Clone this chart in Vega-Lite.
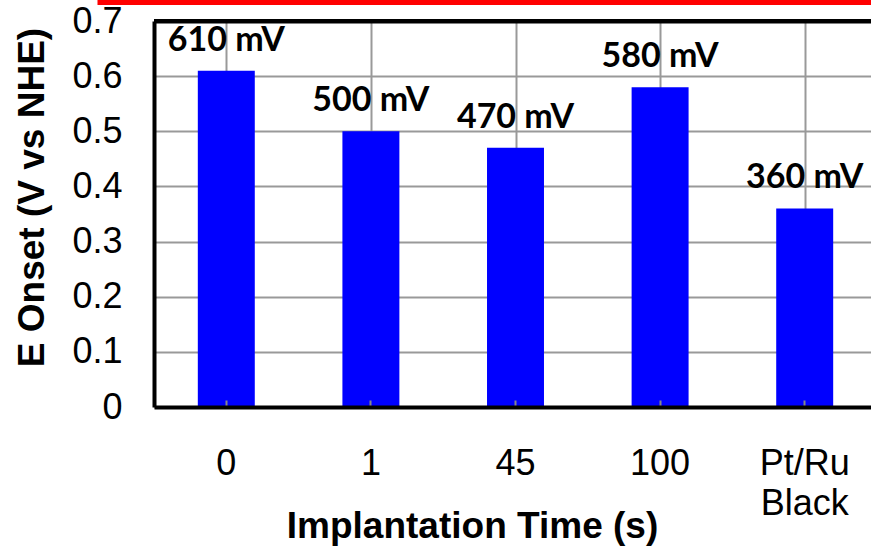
{
  "$schema": "https://vega.github.io/schema/vega-lite/v6.json",
  "width": 723,
  "height": 386,
  "autosize": {"type": "none"},
  "padding": {"left": 154, "top": 21, "right": -6, "bottom": 142},
  "background": "white",
  "config": {"view": {"stroke": null}, "font": "Liberation Sans"},
  "data": {
    "values": [
      {"time": "0", "onset": 0.61, "label": "610 mV"},
      {"time": "1", "onset": 0.50, "label": "500 mV"},
      {"time": "45", "onset": 0.47, "label": "470 mV"},
      {"time": "100", "onset": 0.58, "label": "580 mV"},
      {"time": "Pt/Ru Black", "onset": 0.36, "label": "360 mV"}
    ]
  },
  "layer": [
    {
      "mark": {"type": "bar", "color": "#0000FF"},
      "encoding": {
        "x": {
          "field": "time", "type": "nominal", "sort": null,
          "scale": {"paddingInner": 0.606, "paddingOuter": 0.303},
          "axis": {
            "orient": "bottom",
            "title": "Implantation Time (s)",
            "labelAngle": 0,
            "labelFont": "Liberation Sans",
            "labelFontSize": 36,
            "labelColor": "black",
            "labelPadding": 46,
            "labelExpr": "datum.value == 'Pt/Ru Black' ? ['Pt/Ru', 'Black'] : datum.label",
            "labelLineHeight": 40,
            "tickSize": -7,
            "tickColor": "#888888",
            "tickWidth": 2,
            "domainColor": "black",
            "domainWidth": 4,
            "grid": false,
            "zindex": 1,
            "titleFont": "Liberation Sans",
            "titleFontSize": 37,
            "titleFontWeight": "bold",
            "titleColor": "black",
            "titleX": 318,
            "titleY": 130,
            "titleBaseline": "alphabetic",
            "titleAlign": "center"
          }
        },
        "y": {
          "field": "onset", "type": "quantitative",
          "scale": {"domain": [0, 0.7]},
          "axis": {
            "title": "E Onset (V vs NHE)",
            "values": [0, 0.1, 0.2, 0.3, 0.4, 0.5, 0.6, 0.7],
            "format": ".1~f",
            "labelFont": "Liberation Sans",
            "labelFontSize": 36,
            "labelColor": "black",
            "labelPadding": 32,
            "ticks": false,
            "domainColor": "black",
            "domainWidth": 4,
            "grid": true,
            "gridColor": "#999999",
            "gridWidth": 2,
            "zindex": 0,
            "titleFont": "Liberation Sans",
            "titleFontSize": 37,
            "titleFontWeight": "bold",
            "titleColor": "black",
            "titleX": -103,
            "titleY": 176,
            "titleAngle": -90,
            "titleBaseline": "bottom",
            "titleAlign": "center"
          }
        }
      }
    },
    {
      "mark": {"type": "text", "font": "Lato", "fontWeight": "bold", "fontSize": 34, "baseline": "alphabetic", "dy": -20, "color": "black"},
      "encoding": {
        "x": {
          "field": "time", "type": "nominal", "sort": null,
          "scale": {"paddingInner": 0.606, "paddingOuter": 0.303},
          "axis": {
            "orient": "top",
            "labels": false,
            "ticks": false,
            "title": null,
            "grid": true,
            "gridColor": "#999999",
            "gridWidth": 2,
            "bandPosition": 1.768,
            "domain": true,
            "domainColor": "black",
            "domainWidth": 4,
            "zindex": 0
          }
        },
        "y": {"field": "onset", "type": "quantitative"},
        "text": {"field": "label"}
      }
    },
    {
      "data": {"values": [{"frame": "top"}]},
      "mark": {"type": "rule", "color": "black", "strokeWidth": 4},
      "encoding": {
        "x": {"datum": 0, "type": "quantitative", "scale": {"domain": [0, 1]}, "axis": null},
        "x2": {"datum": 1.01},
        "y": {"datum": 0.7, "type": "quantitative"}
      }
    },
    {
      "data": {"values": [{"frame": "box"}]},
      "mark": {"type": "rect", "fill": "transparent", "stroke": "#FF0000", "strokeWidth": 5},
      "encoding": {
        "x": {"datum": -0.0747, "type": "quantitative", "scale": {"domain": [0, 1]}, "axis": null},
        "x2": {"datum": 1.2},
        "y": {"datum": 0.7335, "type": "quantitative"},
        "y2": {"datum": 0.95}
      }
    }
  ],
  "resolve": {"scale": {"x": "independent"}}
}
